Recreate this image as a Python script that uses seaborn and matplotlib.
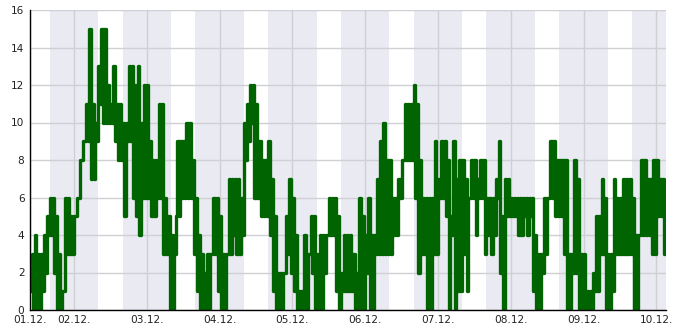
import numpy as np
import pandas as pd
import matplotlib
matplotlib.use("Agg")
import matplotlib.pyplot as plt
import matplotlib.transforms as mtransforms
from matplotlib.ticker import MultipleLocator
import seaborn as sns

# ---- data (hourly minimum / maximum) ----
start_time = "2023-12-01 09:30"
hourly_min = [
    1, 0, 0, 0, 1, 2, 4, 4, 2, 0, 0, 1, 3, 3, 3, 5, 6, 8, 9, 9,
    7, 7, 9, 11, 10, 10, 10, 10, 9, 8, 8, 5, 9, 9, 6, 5, 4, 6, 6, 6,
    5, 5, 6, 6, 3, 3, 0, 0, 5, 5, 6, 6, 6, 6, 3, 1, 0, 0, 0, 0,
    3, 3, 1, 0, 0, 3, 3, 4, 3, 3, 4, 8, 9, 10, 6, 6, 5, 5, 5, 4,
    1, 0, 0, 0, 2, 3, 2, 1, 0, 0, 0, 0, 3, 2, 0, 0, 0, 2, 4, 4,
    4, 1, 0, 1, 1, 1, 1, 0, 0, 0, 0, 2, 0, 0, 3, 3, 3, 3, 3, 3,
    4, 4, 6, 8, 8, 8, 8, 6, 2, 3, 3, 0, 0, 3, 3, 6, 6, 5, 0, 4,
    0, 1, 1, 3, 1, 6, 6, 4, 6, 6, 3, 4, 3, 4, 6, 2, 0, 5, 5, 5,
    5, 4, 4, 5, 4, 5, 1, 0, 0, 2, 3, 6, 6, 5, 5, 5, 3, 0, 0, 2,
    2, 0, 0, 0, 0, 0, 1, 1, 3, 3, 0, 0, 1, 3, 3, 3, 3, 3, 3, 0,
    0, 4, 4, 4, 4, 3, 3, 5, 5, 3,
]
hourly_max = [
    3, 4, 3, 3, 4, 5, 6, 6, 5, 3, 1, 6, 6, 5, 5, 6, 8, 9, 11, 15,
    11, 10, 13, 15, 15, 12, 11, 13, 11, 11, 10, 10, 13, 13, 12, 13, 10, 12, 12, 9,
    8, 8, 11, 11, 6, 5, 4, 3, 9, 9, 9, 10, 10, 8, 6, 4, 3, 2, 3, 3,
    6, 6, 5, 3, 3, 7, 7, 7, 7, 6, 10, 11, 12, 12, 11, 9, 8, 8, 9, 7,
    5, 2, 2, 2, 5, 7, 6, 4, 1, 1, 4, 3, 5, 5, 3, 4, 4, 4, 6, 6,
    6, 5, 2, 4, 4, 4, 3, 2, 6, 5, 4, 6, 4, 4, 7, 9, 10, 8, 8, 6,
    6, 7, 8, 11, 11, 11, 12, 11, 8, 6, 6, 6, 6, 9, 7, 9, 9, 8, 5, 9,
    7, 8, 8, 7, 6, 8, 8, 7, 8, 8, 6, 6, 6, 7, 9, 5, 7, 7, 6, 6,
    6, 6, 6, 6, 6, 6, 4, 3, 3, 6, 6, 9, 9, 8, 8, 8, 8, 3, 3, 8,
    7, 3, 3, 1, 1, 2, 5, 5, 7, 6, 3, 3, 7, 6, 6, 7, 7, 7, 6, 4,
    4, 8, 8, 7, 7, 8, 8, 7, 7, 6,
]
day_ticks = ["2023-12-02", "2023-12-03", "2023-12-04", "2023-12-05", "2023-12-06",
             "2023-12-07", "2023-12-08", "2023-12-09", "2023-12-10"]
night_start_hour = 16
night_end_hour = 8
y_max = 16

# ---- build long table: min at :00, max at :30 of each hour ----
t0 = pd.Timestamp(start_time)
hours = pd.date_range(t0, periods=len(hourly_min), freq="h")
times = np.empty(2 * len(hours), dtype="datetime64[ns]")
times[0::2] = hours.values
times[1::2] = (hours + pd.Timedelta(minutes=30)).values
vals = np.empty(2 * len(hours))
vals[0::2] = hourly_min
vals[1::2] = hourly_max
df = pd.DataFrame({"time": times, "value": vals})

sns.set_style("white")
plt.rcParams["font.family"] = ["DejaVu Sans"]

fig = plt.figure(figsize=(6.85, 3.30), dpi=100)
ax = fig.add_axes([30 / 685, 20 / 330, 636 / 685, 300 / 330])

t_end = df["time"].iloc[-1] + pd.Timedelta(minutes=12)

# night shading
day0 = t0.normalize()
for d in range(-1, 11):
    s = day0 + pd.Timedelta(days=d, hours=night_start_hour)
    e = day0 + pd.Timedelta(days=d + 1, hours=night_end_hour)
    ax.axvspan(s, e, color="#eaeaf2", lw=0, zorder=0.8)

sns.lineplot(data=df, x="time", y="value", ax=ax, color="#006400",
             linewidth=2.4, drawstyle="steps-post", estimator=None,
             sort=False, zorder=3)

ax.set_xlim(t0, t_end)
ax.set_ylim(0, y_max)

ticks = [t0] + [pd.Timestamp(d) for d in day_ticks]
ax.set_xticks(ticks)
ax.set_xticklabels([t.strftime("%d.%m.") for t in ticks])
ax.yaxis.set_major_locator(MultipleLocator(2))
ax.yaxis.set_minor_locator(MultipleLocator(1))

ax.set_axisbelow("line")
ax.grid(True, which="major", color="#d0d0d4", linewidth=1.0, zorder=1)
ax.set_xlabel("")
ax.set_ylabel("")

for sp in ["top", "right"]:
    ax.spines[sp].set_visible(False)
for sp in ["left", "bottom"]:
    ax.spines[sp].set_color("black")
    ax.spines[sp].set_linewidth(1.0)
    ax.spines[sp].set_zorder(4)

ax.tick_params(axis="both", which="major", direction="in", labelsize=7.6,
               labelcolor="#222222", color="black", width=1)
ax.tick_params(axis="y", which="major", length=4, pad=4)
ax.tick_params(axis="y", which="minor", direction="in", length=4, width=1, color="black")
ax.tick_params(axis="x", which="major", length=5, pad=3.5)

# nudge the bottom "0" label up a little so it clears the first date label
fig.canvas.draw()
ylabels = ax.get_yticklabels()
if ylabels:
    lab0 = ylabels[0]
    lab0.set_transform(lab0.get_transform() +
                       mtransforms.ScaledTranslation(0, 2.5 / 72, fig.dpi_scale_trans))

fig.savefig("out.png", dpi=100)
